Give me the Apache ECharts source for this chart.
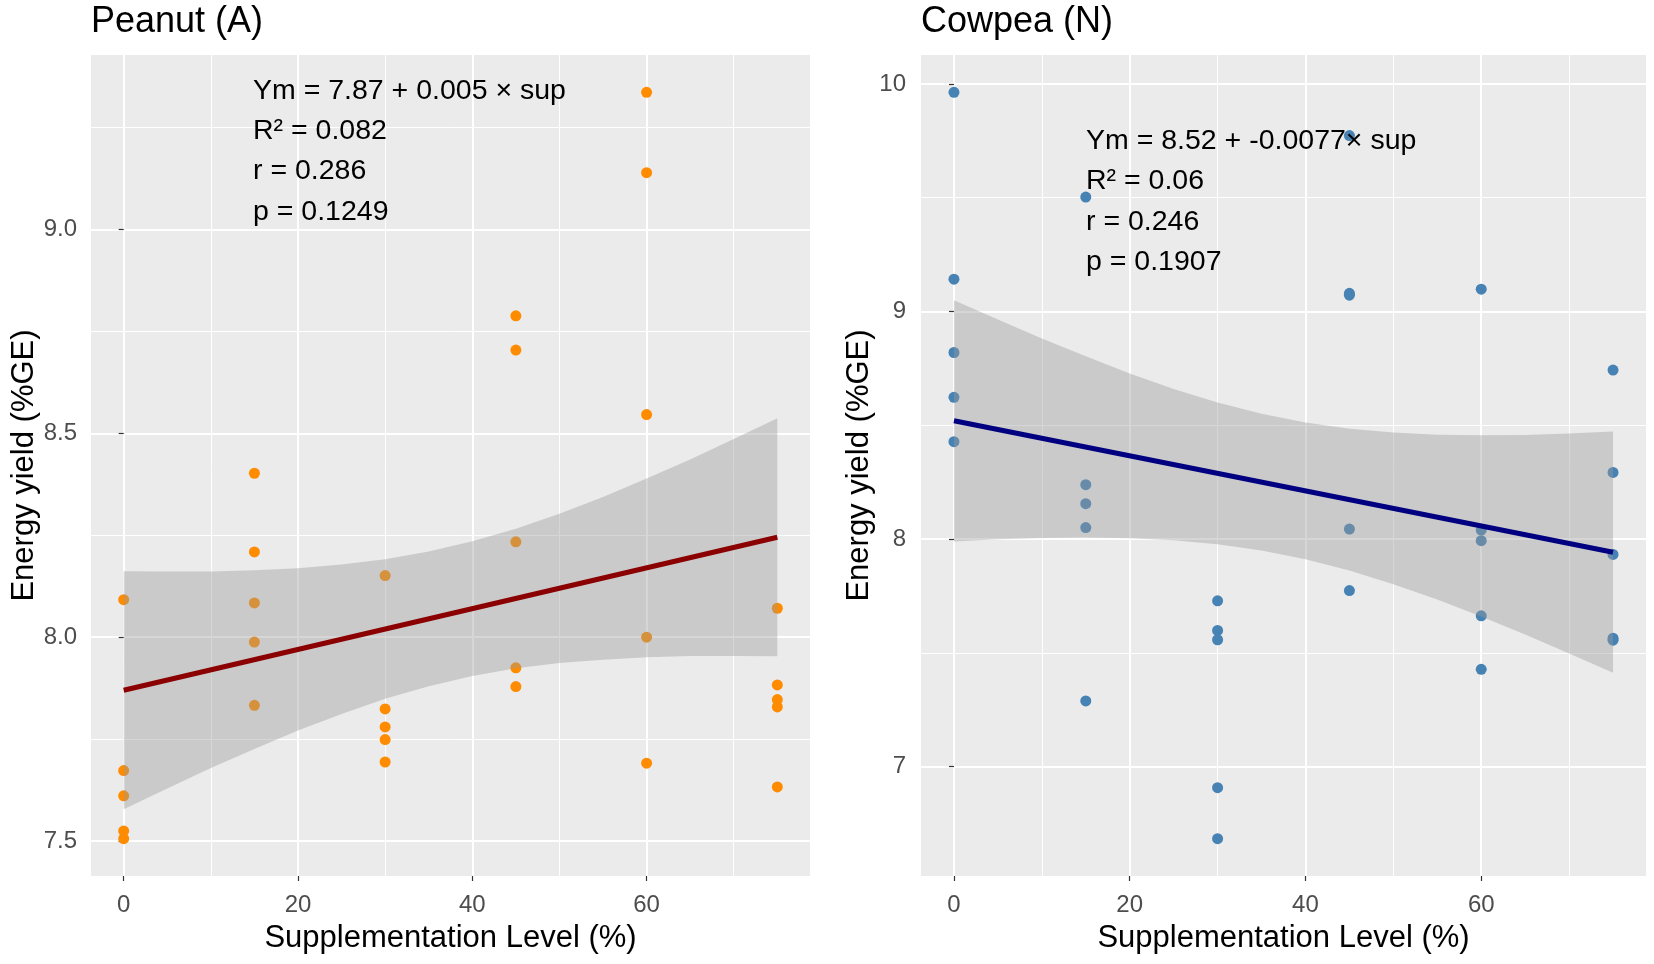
<!DOCTYPE html>
<html><head><meta charset="utf-8">
<script src="https://cdn.jsdelivr.net/npm/echarts@6/dist/echarts.min.js"></script>
<style>html,body{margin:0;padding:0;background:#fff}#c{width:1654px;height:964px}</style>
</head><body><div id="c"></div>
<script>
// ---- data ----
const supLevel = [0,0,0,0,0, 15,15,15,15,15, 30,30,30,30,30, 45,45,45,45,45, 60,60,60,60,60, 75,75,75,75,75];
const peanutYield = [8.092,7.673,7.611,7.525,7.506, 8.402,8.209,8.084,7.988,7.833, 8.151,7.824,7.780,7.749,7.694,
                     8.788,8.704,8.234,7.925,7.879, 9.336,9.139,8.546,8.000,7.691, 8.071,7.883,7.847,7.829,7.633];
const cowpeaYield = [9.963,9.142,8.820,8.623,8.428, 9.503,8.239,8.156,8.051,7.289, 7.729,7.599,7.558,6.908,6.684,
                     9.773,9.080,9.072,8.044,7.774, 9.098,8.040,7.993,7.663,7.428, 8.743,8.293,7.933,7.565,7.556];
const fitX = [0, 75];
const peanutFit = [7.87, 8.245];
const cowpeaFit = [8.52, 7.9425];
const bandX = [0,5,10,15,20,25,30,35,40,45,50,55,60,65,70,75];
const peanutUpper = [8.162,8.161,8.161,8.164,8.169,8.178,8.191,8.210,8.235,8.266,8.303,8.344,8.389,8.436,8.486,8.537];
const peanutLower = [7.578,7.629,7.679,7.726,7.771,7.812,7.849,7.880,7.905,7.924,7.937,7.945,7.951,7.954,7.954,7.953];
const cowpeaUpper = [9.050,8.965,8.882,8.803,8.728,8.660,8.600,8.551,8.512,8.485,8.468,8.459,8.456,8.458,8.464,8.473];
const cowpeaLower = [7.990,7.999,8.005,8.007,8.004,7.995,7.978,7.950,7.912,7.862,7.802,7.735,7.660,7.581,7.498,7.413];
const xMajorTicks = [0,20,40,60];
const xMinorTicks = [10,30,50,70];
const peanutYMajor = [7.5,8.0,8.5,9.0];
const peanutYMinor = [7.75,8.25,8.75,9.25];
const cowpeaYMajor = [7,8,9,10];
const cowpeaYMinor = [7.5,8.5,9.5];
const panelTitles = ['Peanut (A)', 'Cowpea (N)'];
const peanutStats = ['Ym = 7.87 + 0.005 \u00d7 sup','R\u00b2 = 0.082','r = 0.286','p = 0.1249'];
const cowpeaStats = ['Ym = 8.52 + -0.0077\u00d7 sup','R\u00b2 = 0.06','r = 0.246','p = 0.1907'];

const FONT = 'Liberation Sans, Arial, sans-serif';
const chart = echarts.init(document.getElementById('c'));

function pairs(xs, ys){ return xs.map((x,i)=>[x, ys[i]]); }

function majorAxis(min, max, ticks, fmt, name, gap, margin, extra){
  return Object.assign({
    type:'value', min:min, max:max,
    axisLine:{show:false},
    axisTick:{show:true, length:5, lineStyle:{color:'#333', width:1.2}, customValues:ticks},
    axisLabel:{customValues:ticks, formatter:fmt, color:'#4d4d4d', fontSize:24, fontFamily:FONT, margin:margin},
    splitLine:{show:true, lineStyle:{color:'#ffffff', width:2}},
    name:name, nameLocation:'middle', nameGap:gap,
    nameTextStyle:{color:'#000', fontSize:31, fontFamily:FONT}
  }, extra||{});
}
function minorAxis(min, max, ticks, extra){
  return Object.assign({
    type:'value', min:min, max:max,
    axisLine:{show:false},
    axisTick:{show:false, customValues:ticks},
    axisLabel:{show:false, customValues:ticks},
    splitLine:{show:true, lineStyle:{color:'#ffffff', width:1}}
  }, extra||{});
}

const xMin = -3.75, xMax = 78.75;
const pyMin = 7.4145, pyMax = 9.4275;
const cyMin = 6.52, cyMax = 10.127;

function band(xi, yi, lo, hi){
  return {
    type:'custom', xAxisIndex:xi, yAxisIndex:yi, z:5, silent:true, clip:false,
    data:[[bandX[0], lo[0]]],
    renderItem:function(params, api){
      const pts = [];
      for (let i=0;i<bandX.length;i++) pts.push(api.coord([bandX[i], hi[i]]));
      for (let i=bandX.length-1;i>=0;i--) pts.push(api.coord([bandX[i], lo[i]]));
      return {type:'polygon', shape:{points:pts}, style:{fill:'rgba(153,153,153,0.4)'}};
    }
  };
}

function statsText(x, centers, lines){
  return lines.map((t,i)=>({
    type:'text', x:x, y:centers[i], z:100,
    style:{text:t, fill:'#000', fontSize:28.5, fontFamily:FONT, verticalAlign:'middle', align:'left'}
  }));
}
function titleText(x, t){
  return {type:'text', x:x, y:22, z:100,
    style:{text:t, fill:'#000', fontSize:36, fontFamily:FONT, verticalAlign:'middle', align:'left'}};
}

const option = {
  animation:false,
  backgroundColor:'#ffffff',
  grid:[
    {left:91, top:55, width:719, height:821, show:true, backgroundColor:'#ebebeb', borderWidth:0, outerBoundsMode:'none'},
    {left:921, top:55, width:725, height:821, show:true, backgroundColor:'#ebebeb', borderWidth:0, outerBoundsMode:'none'}
  ],
  xAxis:[
    majorAxis(xMin, xMax, xMajorTicks, v=>String(v), 'Supplementation Level (%)', 47, 17, {gridIndex:0}),
    minorAxis(xMin, xMax, xMinorTicks, {gridIndex:0}),
    majorAxis(xMin, xMax, xMajorTicks, v=>String(v), 'Supplementation Level (%)', 47, 17, {gridIndex:1}),
    minorAxis(xMin, xMax, xMinorTicks, {gridIndex:1})
  ],
  yAxis:[
    majorAxis(pyMin, pyMax, peanutYMajor, v=>v.toFixed(1), 'Energy yield (%GE)', 51, 14, {gridIndex:0}),
    minorAxis(pyMin, pyMax, peanutYMinor, {gridIndex:0, position:'left'}),
    majorAxis(cyMin, cyMax, cowpeaYMajor, v=>String(Math.round(v)), 'Energy yield (%GE)', 45, 15, {gridIndex:1}),
    minorAxis(cyMin, cyMax, cowpeaYMinor, {gridIndex:1, position:'left'})
  ],
  series:[
    {type:'scatter', xAxisIndex:0, yAxisIndex:0, z:3, symbolSize:11, silent:true,
     itemStyle:{color:'#ff8c00', opacity:1}, data:pairs(supLevel, peanutYield)},
    band(0, 0, peanutLower, peanutUpper),
    {type:'line', xAxisIndex:0, yAxisIndex:0, z:6, symbol:'none', silent:true,
     lineStyle:{color:'#8b0000', width:5}, data:pairs(fitX, peanutFit)},
    {type:'scatter', xAxisIndex:2, yAxisIndex:2, z:3, symbolSize:11, silent:true,
     itemStyle:{color:'#4682b4', opacity:1}, data:pairs(supLevel, cowpeaYield)},
    band(2, 2, cowpeaLower, cowpeaUpper),
    {type:'line', xAxisIndex:2, yAxisIndex:2, z:6, symbol:'none', silent:true,
     lineStyle:{color:'#000080', width:5}, data:pairs(fitX, cowpeaFit)}
  ],
  graphic: [titleText(91, panelTitles[0]), titleText(921, panelTitles[1])]
    .concat(statsText(253, [91,131.5,171.5,212], peanutStats))
    .concat(statsText(1086, [141,181.5,222,262.5], cowpeaStats))
};
chart.setOption(option);
</script>
</body></html>
